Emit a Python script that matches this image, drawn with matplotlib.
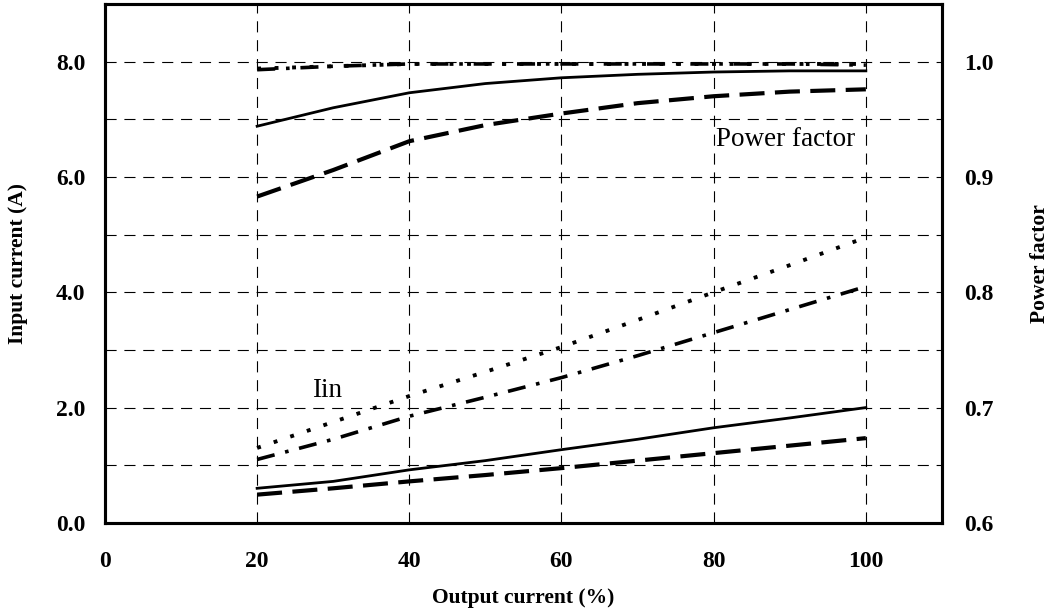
import matplotlib.pyplot as plt
from matplotlib.ticker import FixedLocator, FuncFormatter

# output current (%)
load = [20, 30, 40, 50, 60, 70, 80, 90, 100]

# input current (A)
iin_solid = [0.60, 0.72, 0.92, 1.08, 1.27, 1.45, 1.65, 1.82, 2.00]
iin_dashed = [0.49, 0.60, 0.72, 0.83, 0.95, 1.08, 1.21, 1.34, 1.47]
iin_dotted = [1.30, 1.75, 2.20, 2.62, 3.05, 3.52, 4.00, 4.47, 4.95]
iin_dashdot = [1.10, 1.45, 1.85, 2.18, 2.52, 2.90, 3.30, 3.70, 4.10]

# power factor
pf_solid = [0.944, 0.960, 0.973, 0.981, 0.986, 0.989, 0.991, 0.992, 0.992]
pf_dashed = [0.883, 0.906, 0.931, 0.945, 0.955, 0.964, 0.970, 0.974, 0.976]
pf_dotted = [0.994, 0.996, 0.998, 0.998, 0.998, 0.998, 0.998, 0.998, 0.998]
pf_dashdot = [0.993, 0.996, 0.998, 0.998, 0.998, 0.998, 0.998, 0.998, 0.997]

plt.rcParams['font.family'] = 'Liberation Serif'

fig = plt.figure(figsize=(10.58, 6.13), dpi=100)
ax = fig.add_axes([0.0992, 0.147, 0.7911, 0.8465])
ax2 = ax.twinx()

styles = {
    'solid': dict(linestyle='-', linewidth=2.0),
    'dashed': dict(linestyle=(0, (6, 2.5)), linewidth=3.0),
    'dotted': dict(linestyle=(0, (1, 3.5)), linewidth=2.8),
    'dashdot': dict(linestyle=(0, (5, 3, 1, 3)), linewidth=2.6),
}

ax.plot(load, iin_solid, color='black', **styles['solid'])
ax.plot(load, iin_dashed, color='black', **styles['dashed'])
ax.plot(load, iin_dotted, color='black', **styles['dotted'])
ax.plot(load, iin_dashdot, color='black', **styles['dashdot'])

ax2.plot(load, pf_solid, color='black', **styles['solid'])
ax2.plot(load, pf_dashed, color='black', **styles['dashed'])
ax2.plot(load, pf_dotted, color='black', **styles['dotted'])
ax2.plot(load, pf_dashdot, color='black', **styles['dashdot'])

ax.set_xlim(0, 110)
ax.set_ylim(0, 9)
ax2.set_ylim(0.6, 1.05)

ax.xaxis.set_major_locator(FixedLocator([0, 20, 40, 60, 80, 100]))
ax.yaxis.set_major_locator(FixedLocator(range(0, 10)))
ax.yaxis.set_major_formatter(FuncFormatter(lambda v, p: f"{v:.1f}" if v % 2 == 0 and v < 9 else ""))
ax2.yaxis.set_major_locator(FixedLocator([0.6, 0.7, 0.8, 0.9, 1.0]))
ax2.yaxis.set_major_formatter(FuncFormatter(lambda v, p: f"{v:.1f}"))

grid_style = dict(color='black', linestyle=(0, (10, 7)), linewidth=0.8)
ax.grid(True, axis='y', **grid_style)
for xv in [20, 40, 60, 80, 100]:
    ax.axvline(xv, zorder=0.5, **grid_style)

ax.tick_params(axis='both', length=0, labelsize=17)
ax.tick_params(axis='y', pad=14)
ax.tick_params(axis='x', pad=20)
ax2.tick_params(axis='y', length=0, labelsize=17, pad=16)

for lab in ax.get_xticklabels() + ax.get_yticklabels() + ax2.get_yticklabels():
    lab.set_fontweight('bold')

for a in (ax, ax2):
    for s in a.spines.values():
        s.set_linewidth(2.2)

ax.set_xlabel('Output current (%)', fontsize=15.5, fontweight='bold', labelpad=12)
ax.set_ylabel('Input current (A)', fontsize=15.5, fontweight='bold', labelpad=20)
ax2.set_ylabel('Power factor', fontsize=15.5, fontweight='bold', labelpad=26)

ax.text(80.3, 6.65, 'Power factor', fontsize=19.5, ha='left', va='center')
ax.text(27.2, 2.3, 'Iin', fontsize=19.5, ha='left', va='center')

fig.savefig('out.png', dpi=100)
